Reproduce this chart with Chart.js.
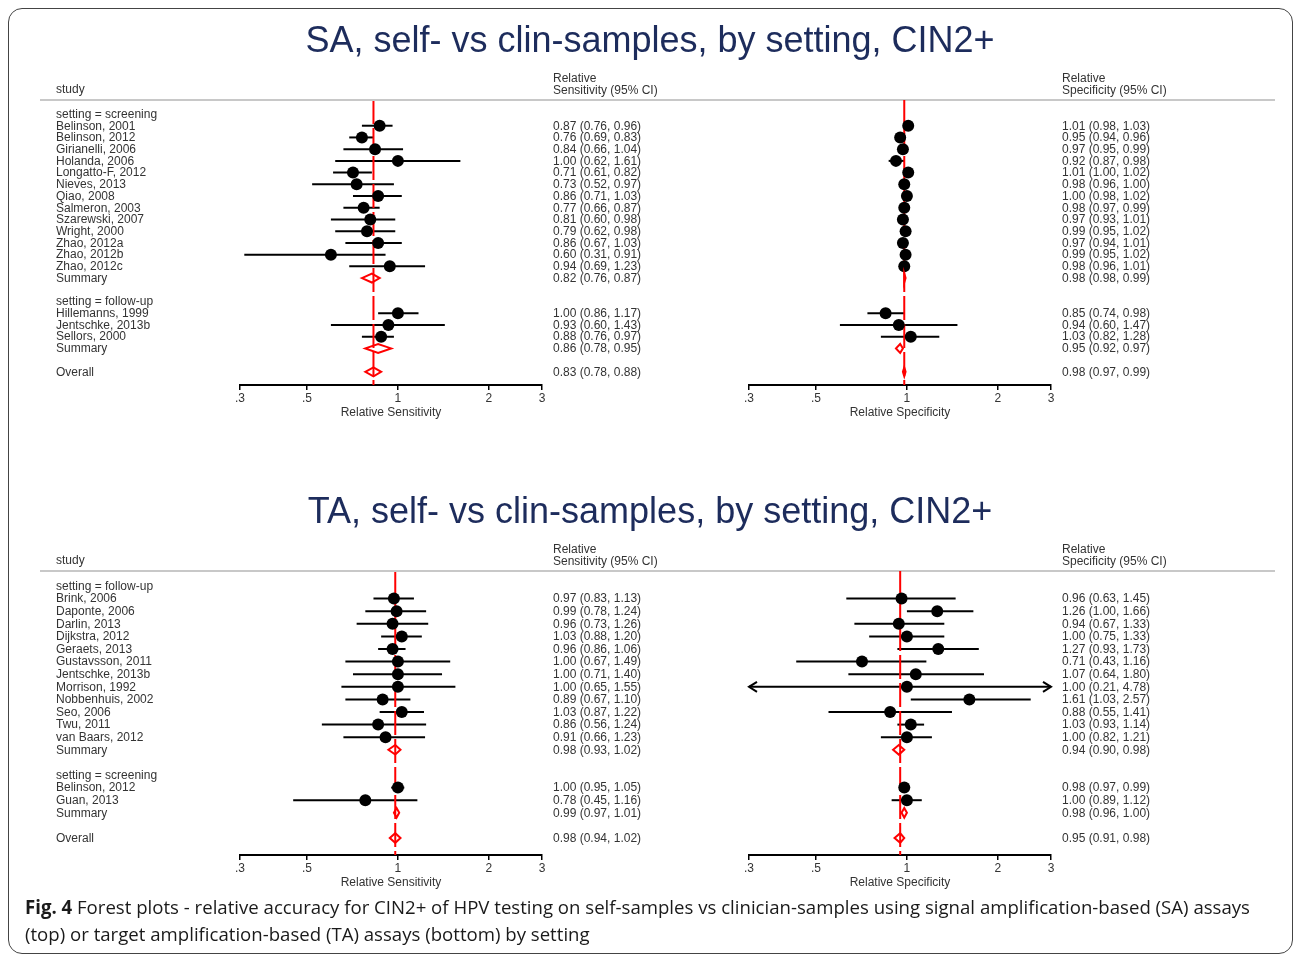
<!DOCTYPE html>
<html><head><meta charset="utf-8">
<script src="https://cdn.jsdelivr.net/npm/chart.js@4.4.1/dist/chart.umd.min.js"></script>
<style>
html,body{margin:0;padding:0;background:#fff;}
body{width:1295px;height:954px;position:relative;overflow:hidden;}
#frame{position:absolute;left:8px;top:8px;width:1285px;height:946px;border:1.5px solid #444;border-radius:14px;box-sizing:border-box;}
canvas{position:absolute;left:0;}
#cap{position:absolute;left:25px;top:894px;font-family:"Open Sans",sans-serif;font-size:19px;color:#1a1a1a;line-height:27px;white-space:nowrap;}
#cap div{transform-origin:0 0;display:inline-block;}
</style></head>
<body>
<div id="frame"></div>
<canvas id="saSens" width="1295" height="440" style="top:0"></canvas>
<canvas id="saSpec" width="1295" height="440" style="top:0"></canvas>
<canvas id="taSens" width="1295" height="440" style="top:470px"></canvas>
<canvas id="taSpec" width="1295" height="440" style="top:470px"></canvas>
<div id="cap"><div id="cap1"><b>Fig. 4</b> Forest plots - relative accuracy for CIN2+ of HPV testing on self-samples vs clinician-samples using signal amplification-based (SA) assays</div><br><div id="cap2">(top) or target amplification-based (TA) assays (bottom) by setting</div></div>
<script>
// ---------- DATA ----------
const xTicks = [0.3, 0.5, 1, 2, 3];
const xTickLabels = ['.3', '.5', '1', '2', '3'];

// SA panel
const saTitle = 'SA, self- vs clin-samples, by setting, CIN2+';
const saLabels = ['setting = screening','Belinson, 2001','Belinson, 2012','Girianelli, 2006','Holanda, 2006','Longatto-F, 2012','Nieves, 2013','Qiao, 2008','Salmeron, 2003','Szarewski, 2007','Wright, 2000','Zhao, 2012a','Zhao, 2012b','Zhao, 2012c','Summary','','setting = follow-up','Hillemanns, 1999','Jentschke, 2013b','Sellors, 2000','Summary','','Overall'];
const saTypes  = ['h','s','s','s','s','s','s','s','s','s','s','s','s','s','d','','h','s','s','s','d','','d'];
const saSensEst = [null,0.87,0.76,0.84,1.00,0.71,0.73,0.86,0.77,0.81,0.79,0.86,0.60,0.94,0.82,null,null,1.00,0.93,0.88,0.86,null,0.83];
const saSensLo  = [null,0.76,0.69,0.66,0.62,0.61,0.52,0.71,0.66,0.60,0.62,0.67,0.31,0.69,0.76,null,null,0.86,0.60,0.76,0.78,null,0.78];
const saSensHi  = [null,0.96,0.83,1.04,1.61,0.82,0.97,1.03,0.87,0.98,0.98,1.03,0.91,1.23,0.87,null,null,1.17,1.43,0.97,0.95,null,0.88];
const saSpecEst = [null,1.01,0.95,0.97,0.92,1.01,0.98,1.00,0.98,0.97,0.99,0.97,0.99,0.98,0.98,null,null,0.85,0.94,1.03,0.95,null,0.98];
const saSpecLo  = [null,0.98,0.94,0.95,0.87,1.00,0.96,0.98,0.97,0.93,0.95,0.94,0.95,0.96,0.98,null,null,0.74,0.60,0.82,0.92,null,0.97];
const saSpecHi  = [null,1.03,0.96,0.99,0.98,1.02,1.00,1.02,0.99,1.01,1.02,1.01,1.02,1.01,0.99,null,null,0.98,1.47,1.28,0.97,null,0.99];

// TA panel
const taTitle = 'TA, self- vs clin-samples, by setting, CIN2+';
const taLabels = ['setting = follow-up','Brink, 2006','Daponte, 2006','Darlin, 2013','Dijkstra, 2012','Geraets, 2013','Gustavsson, 2011','Jentschke, 2013b','Morrison, 1992','Nobbenhuis, 2002','Seo, 2006','Twu, 2011','van Baars, 2012','Summary','','setting = screening','Belinson, 2012','Guan, 2013','Summary','','Overall'];
const taTypes  = ['h','s','s','s','s','s','s','s','s','s','s','s','s','d','','h','s','s','d','','d'];
const taSensEst = [null,0.97,0.99,0.96,1.03,0.96,1.00,1.00,1.00,0.89,1.03,0.86,0.91,0.98,null,null,1.00,0.78,0.99,null,0.98];
const taSensLo  = [null,0.83,0.78,0.73,0.88,0.86,0.67,0.71,0.65,0.67,0.87,0.56,0.66,0.93,null,null,0.95,0.45,0.97,null,0.94];
const taSensHi  = [null,1.13,1.24,1.26,1.20,1.06,1.49,1.40,1.55,1.10,1.22,1.24,1.23,1.02,null,null,1.05,1.16,1.01,null,1.02];
const taSpecEst = [null,0.96,1.26,0.94,1.00,1.27,0.71,1.07,1.00,1.61,0.88,1.03,1.00,0.94,null,null,0.98,1.00,0.98,null,0.95];
const taSpecLo  = [null,0.63,1.00,0.67,0.75,0.93,0.43,0.64,0.21,1.03,0.55,0.93,0.82,0.90,null,null,0.97,0.89,0.96,null,0.91];
const taSpecHi  = [null,1.45,1.66,1.33,1.33,1.73,1.16,1.80,4.78,2.57,1.41,1.14,1.21,0.98,null,null,0.99,1.12,1.00,null,0.98];

// ---------- RENDERING ----------
const TXT = '#333';
const FONT = '"Liberation Sans", Arial, sans-serif';
const fmt = (e,l,h) => e.toFixed(2) + ' (' + l.toFixed(2) + ', ' + h.toFixed(2) + ')';

const forestPlugin = {
  id: 'forest',
  beforeDatasetsDraw(chart, args, o) {
    const {ctx, scales:{x, y}} = chart;
    ctx.save();
    ctx.strokeStyle = '#000'; ctx.lineWidth = 2; ctx.lineCap = 'butt';
    o.types.forEach((t, i) => {
      if (t !== 's') return;
      const lo = o.lo[i], hi = o.hi[i];
      const py = y.getPixelForValue(i);
      const xl = x.getPixelForValue(Math.max(lo, x.min));
      const xh = x.getPixelForValue(Math.min(hi, x.max));
      ctx.beginPath(); ctx.moveTo(xl, py); ctx.lineTo(xh, py); ctx.stroke();
      if (lo < x.min) { ctx.beginPath(); ctx.moveTo(xl + 8, py - 5); ctx.lineTo(xl, py); ctx.lineTo(xl + 8, py + 5); ctx.stroke(); }
      if (hi > x.max) { ctx.beginPath(); ctx.moveTo(xh - 8, py - 5); ctx.lineTo(xh, py); ctx.lineTo(xh - 8, py + 5); ctx.stroke(); }
    });
    ctx.restore();
  },
  afterDatasetsDraw(chart, args, o) {
    const {ctx, scales:{x, y}} = chart;
    const rowPx = Math.abs(y.getPixelForValue(1) - y.getPixelForValue(0));
    const hh = rowPx * 0.38;
    ctx.save();
    ctx.strokeStyle = '#ff0000'; ctx.lineWidth = 2; ctx.lineJoin = 'miter';
    o.types.forEach((t, i) => {
      if (t !== 'd') return;
      const py = y.getPixelForValue(i);
      const xl = x.getPixelForValue(o.lo[i]), xe = x.getPixelForValue(o.est[i]), xh = x.getPixelForValue(o.hi[i]);
      ctx.beginPath();
      ctx.moveTo(xl, py); ctx.lineTo(xe, py - hh); ctx.lineTo(xh, py); ctx.lineTo(xe, py + hh); ctx.closePath();
      ctx.stroke();
    });
    ctx.restore();
  },
  afterDraw(chart, args, o) {
    const {ctx, scales:{y}, chartArea} = chart;
    const top = chartArea.top;
    ctx.save();
    ctx.fillStyle = TXT;
    ctx.textBaseline = 'middle';
    ctx.textAlign = 'left';
    if (o.main) {
      ctx.font = '36px ' + FONT;
      ctx.fillStyle = '#1d2c5c';
      ctx.textAlign = 'center';
      ctx.fillText(o.title, 650, top - 58);
      ctx.textAlign = 'left';
      ctx.fillStyle = TXT;
      ctx.strokeStyle = '#c8c8c8'; ctx.lineWidth = 2;
      ctx.beginPath(); ctx.moveTo(40, top); ctx.lineTo(1275, top); ctx.stroke();
      ctx.font = '12px ' + FONT;
      ctx.fillText('study', 56, top - 10);
      o.labels.forEach((s, i) => { if (s) ctx.fillText(s, 56, y.getPixelForValue(i) + 0.5); });
    }
    ctx.font = '12px ' + FONT;
    ctx.fillText('Relative', o.textX, top - 21);
    ctx.fillText(o.header, o.textX, top - 9);
    o.types.forEach((t, i) => {
      if (o.est[i] == null) return;
      ctx.fillText(fmt(o.est[i], o.lo[i], o.hi[i]), o.textX, y.getPixelForValue(i) + 0.5);
    });
    ctx.restore();
  }
};

function makeChart(id, cfg) {
  const n = cfg.types.length;
  const pts = [];
  cfg.types.forEach((t, i) => { if (t === 's') pts.push({x: cfg.est[i], y: i}); });
  const overall = cfg.est[n - 1];
  new Chart(document.getElementById(id), {
    type: 'scatter',
    data: { datasets: [
      { data: pts, pointRadius: 6, pointHoverRadius: 6, backgroundColor: '#000', borderWidth: 0, pointStyle: 'circle', order: 0 },
      { data: [{x: overall, y: cfg.yMin}, {x: overall, y: cfg.yMax}], showLine: true, borderColor: '#ff0000', borderWidth: 2, borderDash: [24, 4], pointRadius: 0, order: 1 }
    ]},
    options: {
      responsive: false, animation: false, devicePixelRatio: 1,
      events: [],
      layout: { padding: { left: cfg.left, right: 1295 - cfg.right, top: cfg.top, bottom: 20 } },
      plugins: {
        legend: { display: false }, tooltip: { enabled: false },
        forest: cfg
      },
      scales: {
        x: {
          type: 'logarithmic', min: 0.3, max: 3,
          afterBuildTicks: (ax) => { ax.ticks = xTicks.map(v => ({ value: v })); },
          afterFit: (ax) => { ax.height = 35; },
          ticks: { autoSkip: false, maxRotation: 0, padding: 1, color: TXT, font: { family: FONT, size: 12 },
                   callback: (v) => { const k = xTicks.indexOf(v); return k >= 0 ? xTickLabels[k] : ''; } },
          grid: { drawOnChartArea: false, drawTicks: true, tickLength: 5, color: '#000', lineWidth: 1.5 },
          border: { display: true, color: '#000', width: 2 },
          title: { display: true, text: cfg.axisTitle, color: TXT, font: { family: FONT, size: 12 }, padding: { top: 0, bottom: 0 } }
        },
        y: { type: 'linear', reverse: true, min: cfg.yMin, max: cfg.yMax, display: false }
      }
    },
    plugins: [forestPlugin]
  });
}

const saY = { yMin: -14 / 11.72, yMax: 271 / 11.72, top: 100 };
const taY = { yMin: -15 / 12.6, yMax: 269 / 12.6, top: 101 };

makeChart('saSens', Object.assign({ main: true, title: saTitle, labels: saLabels, types: saTypes, est: saSensEst, lo: saSensLo, hi: saSensHi,
  left: 240, right: 542, textX: 553, header: 'Sensitivity (95% CI)', axisTitle: 'Relative Sensitivity' }, saY));
makeChart('saSpec', Object.assign({ main: false, types: saTypes, est: saSpecEst, lo: saSpecLo, hi: saSpecHi,
  left: 749, right: 1051, textX: 1062, header: 'Specificity (95% CI)', axisTitle: 'Relative Specificity' }, saY));
makeChart('taSens', Object.assign({ main: true, title: taTitle, labels: taLabels, types: taTypes, est: taSensEst, lo: taSensLo, hi: taSensHi,
  left: 240, right: 542, textX: 553, header: 'Sensitivity (95% CI)', axisTitle: 'Relative Sensitivity' }, taY));
makeChart('taSpec', Object.assign({ main: false, types: taTypes, est: taSpecEst, lo: taSpecLo, hi: taSpecHi,
  left: 749, right: 1051, textX: 1062, header: 'Specificity (95% CI)', axisTitle: 'Relative Specificity' }, taY));

// caption fitting (condensed look)
const c1 = document.getElementById('cap1'), c2 = document.getElementById('cap2');
const k = 1225 / c1.getBoundingClientRect().width;
c1.style.transform = 'scaleX(' + k + ')';
c2.style.transform = 'scaleX(' + k + ')';
</script>
</body></html>
